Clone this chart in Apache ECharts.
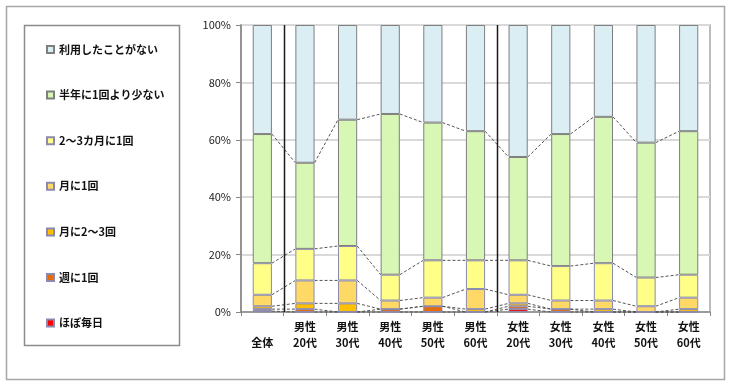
<!DOCTYPE html>
<html>
<head>
<meta charset="utf-8">
<script src="https://cdn.jsdelivr.net/npm/echarts@6/dist/echarts.min.js"></script>
<style>
html,body{margin:0;padding:0;background:#fff;}
#chart{width:730px;height:385px;}
</style>
</head>
<body>
<div id="chart"></div>
<script>
// Categories (x axis)
var categories = ['全体', '男性\n20代', '男性\n30代', '男性\n40代', '男性\n50代', '男性\n60代',
                  '女性\n20代', '女性\n30代', '女性\n40代', '女性\n50代', '女性\n60代'];
// Series names (bottom to top in the stack)
var seriesNames = ['ほぼ毎日', '週に1回', '月に2～3回', '月に1回', '2～3カ月に1回', '半年に1回より少ない', '利用したことがない'];
// Values (%)
var almostDaily   = [0.3, 0, 0, 0, 0, 0, 1, 0, 0, 0, 0];
var weekly        = [0.7, 1, 0, 1, 2, 0, 1, 1, 0, 0, 0];
var twoThreeMonth = [1, 2, 3, 0, 0, 1, 1, 0, 1, 0, 1];
var monthly       = [4, 8, 8, 3, 3, 7, 3, 3, 3, 2, 4];
var every2to3Mo   = [11, 11, 12, 9, 13, 10, 12, 12, 13, 10, 8];
var lessHalfYear  = [45, 30, 44, 56, 48, 45, 36, 46, 51, 47, 50];
var neverUsed     = [38, 48, 33, 31, 34, 37, 46, 38, 32, 41, 37];
// Y tick labels
var yTicks = [0, 20, 40, 60, 80, 100];
// Group separators (category index where a new group starts)
var separators = [1, 6];

var seriesValues = [almostDaily, weekly, twoThreeMonth, monthly, every2to3Mo, lessHalfYear, neverUsed];
var colors = ['#FF0000', '#E46C0A', '#FFC000', '#FFD966', '#FFFF88', '#D9F7B4', '#DAEEF3'];
var borders = ['#8a8ab0', '#8a8ab0', '#8a8ab0', '#8a8ab0', '#8a8ab0', '#7f7f7f', '#7f7f7f'];
var FONT = '"Noto Sans CJK JP", "Noto Sans", sans-serif';
var BARW = 0.45;

var series = [];
seriesValues.forEach(function (vals, k) {
  series.push({
    name: seriesNames[k],
    type: 'bar',
    stack: 'total',
    barWidth: (BARW * 100) + '%',
    data: vals,
    itemStyle: { color: colors[k], borderColor: borders[k], borderWidth: 1 },
    emphasis: { disabled: true },
    z: 2
  });
});

// series lines (dashed) between tops of each segment (except 100%)
var cum = categories.map(function () { return 0; });
for (var k = 0; k < seriesValues.length - 1; k++) {
  var lineData = [];
  for (var i = 0; i < categories.length; i++) cum[i] += seriesValues[k][i];
  for (var j = 0; j < categories.length - 1; j++) lineData.push([j, cum[j], cum[j + 1]]);
  series.push({
    type: 'custom',
    silent: true,
    z: 4,
    encode: { x: 0, y: 1 },
    data: lineData,
    renderItem: function (params, api) {
      var idx = api.value(0);
      var p0 = api.coord([idx, api.value(1)]);
      var p1 = api.coord([idx + 1, api.value(2)]);
      var half = api.size([1, 0])[0] * BARW / 2;
      return {
        type: 'line',
        shape: { x1: p0[0] + half, y1: p0[1], x2: p1[0] - half, y2: p1[1] },
        style: { stroke: '#555', lineWidth: 1, lineDash: [3, 2] }
      };
    }
  });
}

// group separators
series.push({
  type: 'custom',
  silent: true,
  z: 5,
  encode: { x: 0, y: 1 },
  data: separators.map(function (s) { return [s, 0]; }),
  renderItem: function (params, api) {
    var idx = api.value(0);
    var b = api.coord([idx, 0]);
    var t = api.coord([idx, 100]);
    var w = api.size([1, 0])[0];
    var x = Math.round(b[0] - w / 2) + 0.5;
    return {
      type: 'line',
      shape: { x1: x, y1: b[1], x2: x, y2: t[1] },
      style: { stroke: '#1a1a1a', lineWidth: 1.5 }
    };
  }
});

var chart = echarts.init(document.getElementById('chart'), null, { renderer: 'canvas' });
chart.setOption({
  animation: false,
  backgroundColor: '#fff',
  textStyle: { fontFamily: FONT },
  graphic: [
    { type: 'rect', z: -10, shape: { x: 6.5, y: 6.5, width: 718, height: 373 }, style: { fill: 'none', stroke: '#a6a6a6', lineWidth: 1.5 } },
    { type: 'rect', z: -10, shape: { x: 24.5, y: 25.5, width: 155, height: 320 }, style: { fill: 'none', stroke: '#8c8c8c', lineWidth: 1.5 } }
  ],
  legend: {
    orient: 'vertical',
    left: 41,
    top: 39,
    itemGap: 34.6,
    itemWidth: 7,
    itemHeight: 7,
    icon: 'rect',
    data: seriesNames.slice().reverse(),
    textStyle: { fontFamily: FONT, fontSize: 11, fontWeight: 'bold', color: '#111' },
    selectedMode: false
  },
  grid: {
    left: 241, right: 20, top: 25, bottom: 73,
    show: true, borderColor: '#a6a6a6', borderWidth: 1.5, backgroundColor: 'transparent'
  },
  xAxis: {
    type: 'category',
    data: categories,
    axisLine: { lineStyle: { color: '#868686', width: 1.5 } },
    axisTick: { show: true, length: 4, lineStyle: { color: '#868686' } },
    axisLabel: {
      fontFamily: FONT, fontSize: 11, fontWeight: 'bold', color: '#111', lineHeight: 16, margin: 7,
      interval: 0,
      formatter: function (v) { return v.indexOf('\n') < 0 ? '\n' + v : v; }
    },
    splitLine: { show: false }
  },
  yAxis: {
    type: 'value',
    min: yTicks[0], max: yTicks[yTicks.length - 1], interval: yTicks[1] - yTicks[0],
    axisLine: { show: true, lineStyle: { color: '#868686', width: 1.5 } },
    axisTick: { show: true, length: 5, lineStyle: { color: '#868686' } },
    axisLabel: { fontFamily: FONT, fontSize: 11, color: '#222', margin: 10, formatter: '{value}%' },
    splitLine: { show: true, lineStyle: { color: '#d9d9d9', width: 2 } }
  },
  series: series
});
</script>
</body>
</html>
